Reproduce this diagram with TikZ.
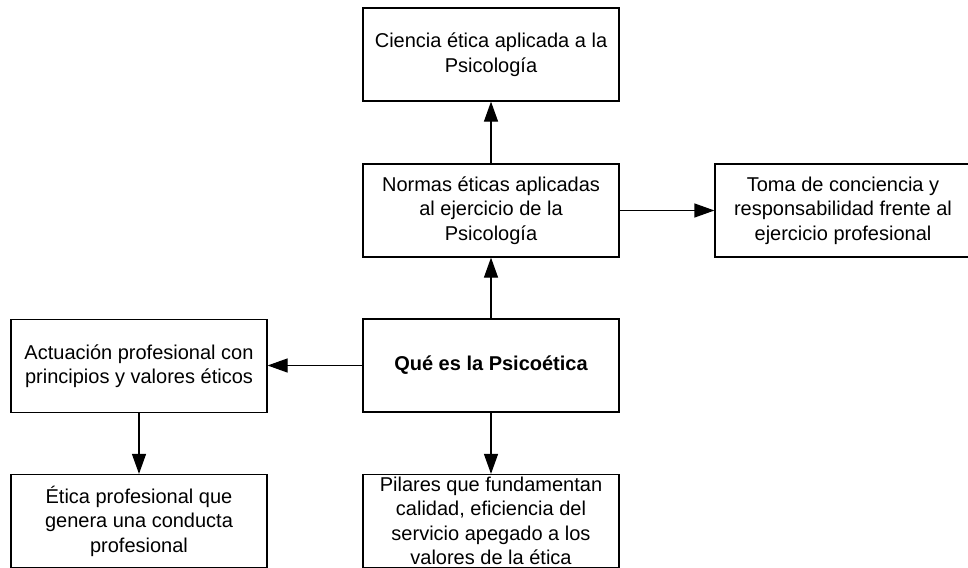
\documentclass[tikz,border=0pt]{standalone}
\usepackage{fontspec}
\setmainfont{Liberation Sans}
\usetikzlibrary{arrows.meta}
\begin{document}
\begin{tikzpicture}[x=1pt,y=-1pt,
		caja/.style={draw, line width=1.2pt, rectangle, minimum width=256pt, minimum height=93pt,
			inner sep=0pt, align=center, font=\fontsize{20}{24.5}\selectfont},
		flecha/.style={line width=1.2pt, -{Triangle[length=20pt,width=14pt]}}]
		\useasboundingbox (0,0) rectangle (968,567);
		\clip (0,0) rectangle (968,567);
		% column in the middle
		\node [caja] (ciencia) at (491,54.5) {Ciencia ética aplicada a la\\Psicología};
		\node [caja] (normas) at (491,210.5) {Normas éticas aplicadas\\al ejercicio de la\\Psicología};
		\node [caja, font=\fontsize{20}{24.5}\selectfont\bfseries] (que) at (491,365.5) {Qué es la Psicoética};
		\node [caja] (pilares) at (491,521) {Pilares que fundamentan\\calidad, eficiencia del\\servicio apegado a los\\valores de la ética};
		% sides
		\node [caja] (toma) at (843,210.5) {Toma de conciencia y\\responsabilidad frente al\\ejercicio profesional};
		\node [caja] (actuacion) at (139,366) {Actuación profesional con\\principios y valores éticos};
		\node [caja] (etica) at (139,521) {Ética profesional que\\genera una conducta\\profesional};
		% arrows
		\draw [flecha] (que) -- (normas);
		\draw [flecha] (normas) -- (ciencia);
		\draw [flecha] (normas) -- (toma);
		\draw [flecha] (que.west) -- (actuacion.east |- que.west);
		\draw [flecha] (que) -- (pilares);
		\draw [flecha] (actuacion) -- (etica);
\end{tikzpicture}
\end{document}
